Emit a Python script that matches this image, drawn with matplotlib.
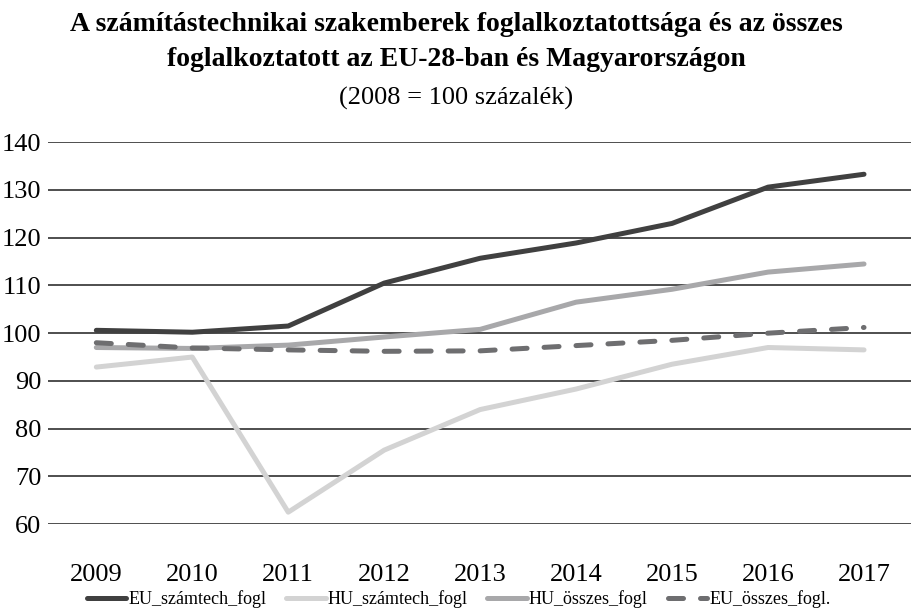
import matplotlib
import matplotlib.pyplot as plt
import numpy as np

matplotlib.rc('font', family='Liberation Serif', size=14)

years = ['2009', '2010', '2011', '2012', '2013', '2014', '2015', '2016', '2017']
eu_szamtech = [100.6, 100.2, 101.5, 110.5, 115.7, 118.9, 123.0, 130.6, 133.3]
hu_szamtech = [92.9, 95.0, 62.5, 75.5, 84.0, 88.3, 93.5, 97.0, 96.5]
hu_osszes = [97.0, 96.8, 97.5, 99.2, 100.8, 106.5, 109.2, 112.8, 114.5]
eu_osszes = [98.0, 96.9, 96.5, 96.2, 96.3, 97.4, 98.5, 100.0, 101.2]

fig = plt.figure(figsize=(9.12, 6.08), dpi=100)
ax = fig.add_axes([0.053, 0.138, 0.947, 0.628])

x = np.arange(len(years))
ax.plot(x, eu_szamtech, color='#404040', lw=3.6, solid_capstyle='round', label='EU_számtech_fogl', zorder=3)
ax.plot(x, hu_szamtech, color='#d3d3d3', lw=3.6, solid_capstyle='round', label='HU_számtech_fogl', zorder=3)
ax.plot(x, hu_osszes, color='#a8a8aa', lw=3.6, solid_capstyle='round', label='HU_összes_fogl', zorder=3)
ax.plot(x, eu_osszes, color='#6e6e70', lw=3.6, ls=(0, (3, 3.4)), dash_capstyle='round',
        label='EU_összes_fogl.', zorder=3)

ax.set_xlim(-0.5, len(years) - 0.5)
ax.set_ylim(60, 140)
ax.set_yticks(np.arange(60, 141, 10))
ax.set_xticks(x, labels=years)
ax.grid(axis='y', color='#404040', lw=1.3)
ax.set_axisbelow(True)
for s in ax.spines.values():
    s.set_visible(False)
ax.tick_params(length=0, labelsize=19)
ax.tick_params(axis='x', pad=29)
ax.tick_params(axis='y', pad=5)

fig.text(0.5, 0.98, 'A számítástechnikai szakemberek foglalkoztatottsága és az összes\n'
         'foglalkoztatott az EU-28-ban és Magyarországon',
         ha='center', va='top', fontsize=20, fontweight='bold', linespacing=1.5)
fig.text(0.5, 0.838, '(2008 = 100 százalék)', ha='center', va='center', fontsize=19)

ax.legend(loc='center', bbox_to_anchor=(0.475, -0.197), ncol=4, frameon=False,
          fontsize=13, handlelength=2.2, handletextpad=0.1, columnspacing=1.1)

plt.savefig('out.png', dpi=100)
plt.close(fig)
